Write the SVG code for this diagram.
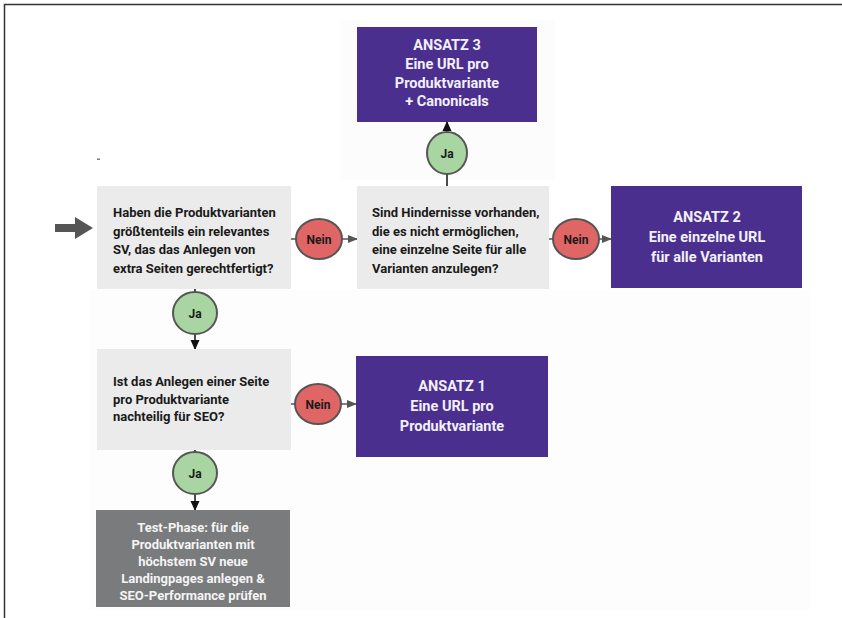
<svg xmlns="http://www.w3.org/2000/svg" width="842" height="618" viewBox="0 0 842 618">
<defs>
<style>
.q{fill:#ebebeb}
.a{fill:#4a2f8f}
.qt{font-family:Roboto,"Liberation Sans",sans-serif;font-weight:bold;font-size:13px;fill:#1a1a1a}
.at{font-family:Roboto,"Liberation Sans",sans-serif;font-weight:bold;font-size:14.5px;fill:#f2f0f8;text-anchor:middle}
.tt{font-family:Roboto,"Liberation Sans",sans-serif;font-weight:bold;font-size:13px;fill:#f4f4f4;text-anchor:middle}
.no{fill:#e06666;stroke:#555;stroke-width:2}
.ja{fill:#a8d5a2;stroke:#555;stroke-width:2}
.lt{font-family:Roboto,"Liberation Sans",sans-serif;font-weight:bold;font-size:12px;fill:#1a1a1a;text-anchor:middle}
.cg{stroke:#555;stroke-width:1.5;fill:none}
.cb{stroke:#111;stroke-width:1.5;fill:none}
</style>
<marker id="mg" markerWidth="10" markerHeight="10" refX="9" refY="5" orient="auto" markerUnits="userSpaceOnUse">
<path d="M0,1 L10,5 L0,9 Z" fill="#555"/>
</marker>
<marker id="mb" markerWidth="10" markerHeight="12" refX="9" refY="5" orient="auto" markerUnits="userSpaceOnUse">
<path d="M0,0.5 L10,5 L0,9.5 Z" fill="#111"/>
</marker>
</defs>
<rect width="842" height="618" fill="#ffffff"/>
<rect x="340" y="20" width="215" height="160" fill="#fcfcfc"/>
<rect x="90" y="290" width="720" height="320" fill="#fdfdfd"/>
<path d="M4.5,618 V4.5 H842" fill="none" stroke="#333" stroke-width="1.5"/>
<rect x="97" y="158.5" width="3" height="1.3" fill="#666"/>

<g id="connectors">
<path d="M55,228 H76" stroke="#555" stroke-width="8" fill="none"/>
<path d="M75,217 L93,228 L75,239 Z" fill="#555"/>
<path class="cg" d="M291,239 H296"/>
<path class="cg" d="M342,239 H357" marker-end="url(#mg)"/>
<path class="cg" d="M549,239 H553"/>
<path class="cg" d="M599,239 H611" marker-end="url(#mg)"/>
<path class="cg" d="M291,404 H295"/>
<path class="cg" d="M341,404 H356" marker-end="url(#mg)"/>
<path class="cb" d="M447,186 V174"/>
<path class="cb" d="M447,132 V122" marker-end="url(#mb)"/>
<path class="cb" d="M195,289 V292"/>
<path class="cb" d="M195,334 V349" marker-end="url(#mb)"/>
<path class="cb" d="M195,450 V452"/>
<path class="cb" d="M195,494 V510" marker-end="url(#mb)"/>
</g>

<g id="q1">
<rect class="q" x="97" y="186" width="194" height="103"/>
<text class="qt" x="113" y="217">Haben die Produktvarianten</text>
<text class="qt" x="113" y="235.5">größtenteils ein relevantes</text>
<text class="qt" x="113" y="254">SV, das das Anlegen von</text>
<text class="qt" x="113" y="272.5">extra Seiten gerechtfertigt?</text>
</g>

<g id="q2">
<rect class="q" x="357" y="186" width="192" height="103"/>
<text class="qt" x="372" y="217">Sind Hindernisse vorhanden,</text>
<text class="qt" x="372" y="235.5">die es nicht ermöglichen,</text>
<text class="qt" x="372" y="254">eine einzelne Seite für alle</text>
<text class="qt" x="372" y="272.5">Varianten anzulegen?</text>
</g>

<g id="q3">
<rect class="q" x="97" y="349" width="194" height="101"/>
<text class="qt" x="113" y="386">Ist das Anlegen einer Seite</text>
<text class="qt" x="113" y="403.5">pro Produktvariante</text>
<text class="qt" x="113" y="421">nachteilig für SEO?</text>
</g>

<g id="ansatz3">
<rect class="a" x="357" y="27" width="180" height="95"/>
<text class="at" x="447" y="50">ANSATZ 3</text>
<text class="at" x="447" y="69">Eine URL pro</text>
<text class="at" x="447" y="87.5">Produktvariante</text>
<text class="at" x="447" y="106">+ Canonicals</text>
</g>

<g id="ansatz2">
<rect class="a" x="611" y="186" width="191" height="102"/>
<text class="at" x="707" y="222">ANSATZ 2</text>
<text class="at" x="707" y="242">Eine einzelne URL</text>
<text class="at" x="707" y="262">für alle Varianten</text>
</g>

<g id="ansatz1">
<rect class="a" x="356" y="356" width="192" height="101"/>
<text class="at" x="452" y="391">ANSATZ 1</text>
<text class="at" x="452" y="411">Eine URL pro</text>
<text class="at" x="452" y="431">Produktvariante</text>
</g>

<g id="test">
<rect x="96" y="510" width="194" height="97" fill="#7a7b7d"/>
<text class="tt" x="193" y="532">Test-Phase: für die</text>
<text class="tt" x="193" y="549">Produktvarianten mit</text>
<text class="tt" x="193" y="566">höchstem SV neue</text>
<text class="tt" x="193" y="583">Landingpages anlegen &amp;</text>
<text class="tt" x="193" y="600">SEO-Performance prüfen</text>
</g>

<g id="nein1">
<ellipse class="no" cx="319" cy="239" rx="23" ry="20"/>
<text class="lt" x="319" y="243.5">Nein</text>
</g>
<g id="nein2">
<ellipse class="no" cx="576" cy="239" rx="23" ry="20"/>
<text class="lt" x="576" y="243.5">Nein</text>
</g>
<g id="nein3">
<ellipse class="no" cx="318" cy="404" rx="23" ry="20"/>
<text class="lt" x="318" y="408.5">Nein</text>
</g>
<g id="ja3">
<ellipse class="ja" cx="447" cy="153" rx="20" ry="21"/>
<text class="lt" x="447" y="157.5">Ja</text>
</g>
<g id="ja1">
<ellipse class="ja" cx="195" cy="313" rx="22" ry="21"/>
<text class="lt" x="195" y="317.5">Ja</text>
</g>
<g id="ja2">
<ellipse class="ja" cx="195" cy="473" rx="22" ry="21"/>
<text class="lt" x="195" y="477.5">Ja</text>
</g>
</svg>
